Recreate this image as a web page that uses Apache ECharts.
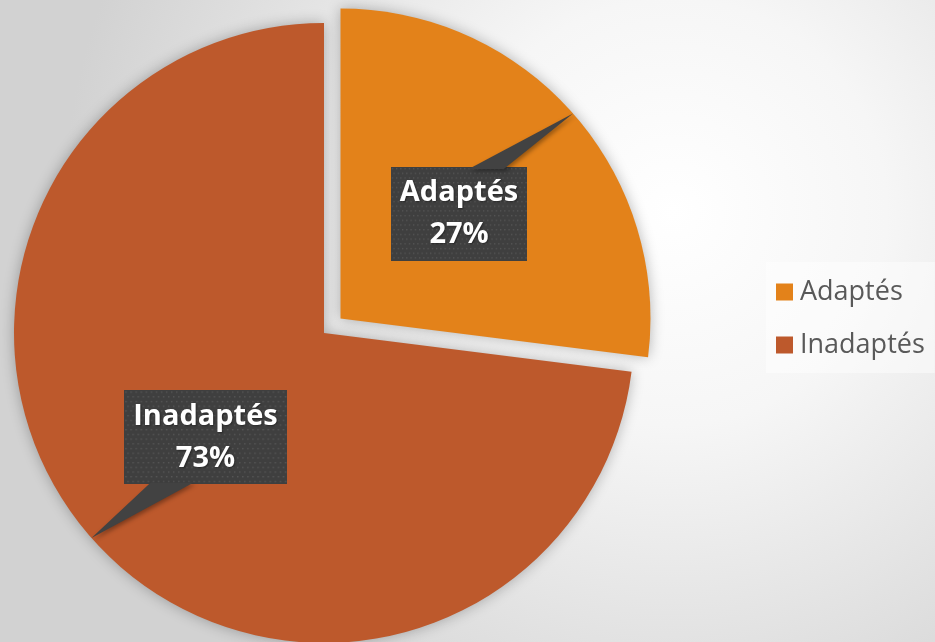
<!DOCTYPE html>
<html><head><meta charset="utf-8">
<script src="https://cdn.jsdelivr.net/npm/echarts@6/dist/echarts.min.js"></script>
<style>html,body{margin:0;padding:0;background:#fff;}#c{width:935px;height:642px;}</style>
</head><body><div id="c"></div>
<script>
const categories = ['Adaptés', 'Inadaptés'];
const values = [27, 73];
const sliceColors = ['#E3821A', '#BD592C'];
const selectedFlags = [true, false];

function makePattern(w, h) {
  const cv = document.createElement('canvas');
  cv.width = w; cv.height = h;
  const g = cv.getContext('2d');
  g.fillStyle = '#3f3f3f';
  g.fillRect(0, 0, w, h);
  g.fillStyle = '#565656';
  for (let y = 1, row = 0; y < h; y += 5, row++) {
    for (let x = (row % 2 ? 3 : 1); x < w; x += 5) {
      g.fillRect(x, y, 1.5, 1.5);
    }
  }
  return cv;
}
const pattern = makePattern(160, 100);

const chart = echarts.init(document.getElementById('c'), null, {renderer: 'canvas'});
const option = {
  animation: false,
  backgroundColor: {
    type: 'radial', x: 0.72, y: 0.33, r: 0.95,
    colorStops: [
      {offset: 0, color: '#ffffff'},
      {offset: 0.35, color: '#f6f6f6'},
      {offset: 1, color: '#d2d2d2'}
    ]
  },
  color: sliceColors,
  legend: {
    orient: 'vertical',
    left: 766, top: 262,
    padding: [12, 10, 10, 10],
    backgroundColor: 'rgba(255,255,255,0.45)',
    itemWidth: 17, itemHeight: 17, itemGap: 17,
    icon: 'rect',
    selectedMode: false,
    textStyle: {fontFamily: 'Open Sans', fontSize: 27, lineHeight: 36, color: '#595959', padding: [0, 0, 0, 2]},
    data: categories
  },
  series: [{
    type: 'pie',
    center: [324, 333],
    radius: 310,
    startAngle: 90,
    clockwise: true,
    selectedMode: 'single',
    selectedOffset: 22,
    avoidLabelOverlap: false,
    emphasis: {disabled: true},
    itemStyle: {shadowBlur: 14, shadowColor: 'rgba(0,0,0,0.28)'},
    select: {itemStyle: {shadowBlur: 14, shadowColor: 'rgba(0,0,0,0.28)'}},
    label: {
      show: true,
      position: 'inside',
      formatter: '{b}\n{d}%',
      fontFamily: 'Open Sans',
      fontWeight: 'bold',
      fontSize: 29,
      lineHeight: 42,
      color: '#ffffff',
      align: 'center',
      backgroundColor: {image: pattern},
      padding: [5, 9, 5, 9],
      shadowColor: 'rgba(0,0,0,0.45)',
      shadowBlur: 5, shadowOffsetX: 3, shadowOffsetY: 3,
      textShadowColor: 'rgba(0,0,0,0.4)', textShadowBlur: 2, textShadowOffsetX: 1, textShadowOffsetY: 1
    },
    labelLine: {show: false},
    data: categories.map((n, i) => ({name: n, value: values[i], selected: selectedFlags[i]}))
  }]
};
chart.setOption(option);

function drawTails() {
  const series = chart.getModel().getSeriesByIndex(0);
  const data = series.getData();
  const offset = option.series[0].selectedOffset;
  const els = [];
  for (let i = 0; i < data.count(); i++) {
    const lay = data.getItemLayout(i);
    const mid = (lay.startAngle + lay.endAngle) / 2;
    const sel = data.getItemModel(i).get('selected') ? offset : 0;
    const ox = sel * Math.cos(mid), oy = sel * Math.sin(mid);
    const tip = [lay.cx + ox + lay.r * Math.cos(mid), lay.cy + oy + lay.r * Math.sin(mid)];
    const lc = [lay.cx + ox + lay.r / 2 * Math.cos(mid), lay.cy + oy + lay.r / 2 * Math.sin(mid)];
    let w = 140, h = 94;
    try {
      const label = data.getItemGraphicEl(i).getTextContent();
      const br = label.getBoundingRect();
      w = br.width; h = br.height;
    } catch (e) {}
    const top = lc[1] - h / 2, bottom = lc[1] + h / 2;
    const s = tip[0] > lc[0] ? 1 : -1;
    const edgeY = tip[1] < top ? top : bottom;
    const a = s > 0 ? [lc[0] + 12, lc[0] + 47] : [lc[0] - 57, lc[0] - 14];
    els.push({
      type: 'polygon', z: 10,
      shape: {points: [[a[0], edgeY], tip, [a[1], edgeY]]},
      style: {fill: '#424242', shadowBlur: 4, shadowColor: 'rgba(0,0,0,0.35)', shadowOffsetX: 2, shadowOffsetY: 2}
    });
  }
  chart.setOption({graphic: els});
}
try { drawTails(); } catch (e) {
  chart.setOption({graphic: [{type: 'text', left: 10, top: 10, z: 100, style: {text: 'ERR ' + e.message, fill: '#000', fontSize: 14}}]});
}
</script></body></html>
